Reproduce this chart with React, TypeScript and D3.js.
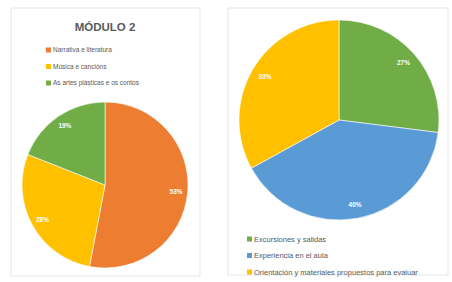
import React from "react";
import * as d3 from "d3";

const leftTitle = "MÓDULO 2";
const leftCategories = ["Narrativa e literatura", "Música e cancións", "As artes plásticas e os contos"];
const leftValues = [53, 28, 19];
const leftColors = ["#ED7D31", "#FFC000", "#70AD47"];

const rightCategories = ["Excursiones y salidas", "Experiencia en el aula", "Orientación y materiales propuestos para evaluar"];
const rightValues = [27, 40, 33];
const rightColors = ["#70AD47", "#5B9BD5", "#FFC000"];

function Pie({ cx, cy, r, values, colors }: { cx: number; cy: number; r: number; values: number[]; colors: string[] }) {
  const pie = d3.pie<number>().sort(null).value((d) => d);
  const arcs = pie(values);
  const arc = d3.arc<d3.PieArcDatum<number>>().innerRadius(0).outerRadius(r);
  const labelArc = d3.arc<d3.PieArcDatum<number>>().innerRadius(r * 0.86).outerRadius(r * 0.86);
  return (
    <g transform={`translate(${cx},${cy})`}>
      {arcs.map((a, i) => (
        <path key={i} d={arc(a) || ""} fill={colors[i]} stroke="#ffffff" strokeWidth={0.6} />
      ))}
      {arcs.map((a, i) => {
        const [x, y] = labelArc.centroid(a);
        return (
          <text key={"t" + i} x={x} y={y} dy="0.35em" textAnchor="middle" fill="#ffffff" fontSize={6.5} fontWeight="bold" fontFamily="Liberation Sans, Arial, sans-serif">
            {values[i]}%
          </text>
        );
      })}
    </g>
  );
}

export default function App() {
  return (
    <svg width={452} height={282} style={{ position: "absolute", left: 0, top: 0, background: "#fff" }}>
      <rect x={0} y={0} width={452} height={282} fill="#ffffff" />
      <rect x={11} y={8} width={189} height={268} fill="#ffffff" stroke="#e6e6e6" strokeWidth={1} />
      <rect x={228} y={8} width={220} height={267} fill="#ffffff" stroke="#e6e6e6" strokeWidth={1} />
      <text x={105} y={31} textAnchor="middle" fontSize={11.5} fontWeight="bold" fill="#595959" fontFamily="Liberation Sans, Arial, sans-serif">
        {leftTitle}
      </text>
      {leftCategories.map((c, i) => (
        <g key={c} transform={`translate(46,${50 + i * 16.5})`}>
          <rect x={0} y={-2.5} width={5} height={5} fill={leftColors[i]} />
          <text x={7} y={0} dy="0.35em" fontSize={6.5} fill="#595959" fontFamily="Liberation Sans, Arial, sans-serif">
            {c}
          </text>
        </g>
      ))}
      <Pie cx={105} cy={185} r={83} values={leftValues} colors={leftColors} />
      <Pie cx={339} cy={120} r={100} values={rightValues} colors={rightColors} />
      {rightCategories.map((c, i) => (
        <g key={c} transform={`translate(247,${239 + i * 16.5})`}>
          <rect x={0} y={-2.5} width={5} height={5} fill={rightColors[i]} />
          <text x={7} y={0} dy="0.35em" fontSize={7.5} fill="#595959" fontFamily="Liberation Sans, Arial, sans-serif">
            {c}
          </text>
        </g>
      ))}
    </svg>
  );
}
